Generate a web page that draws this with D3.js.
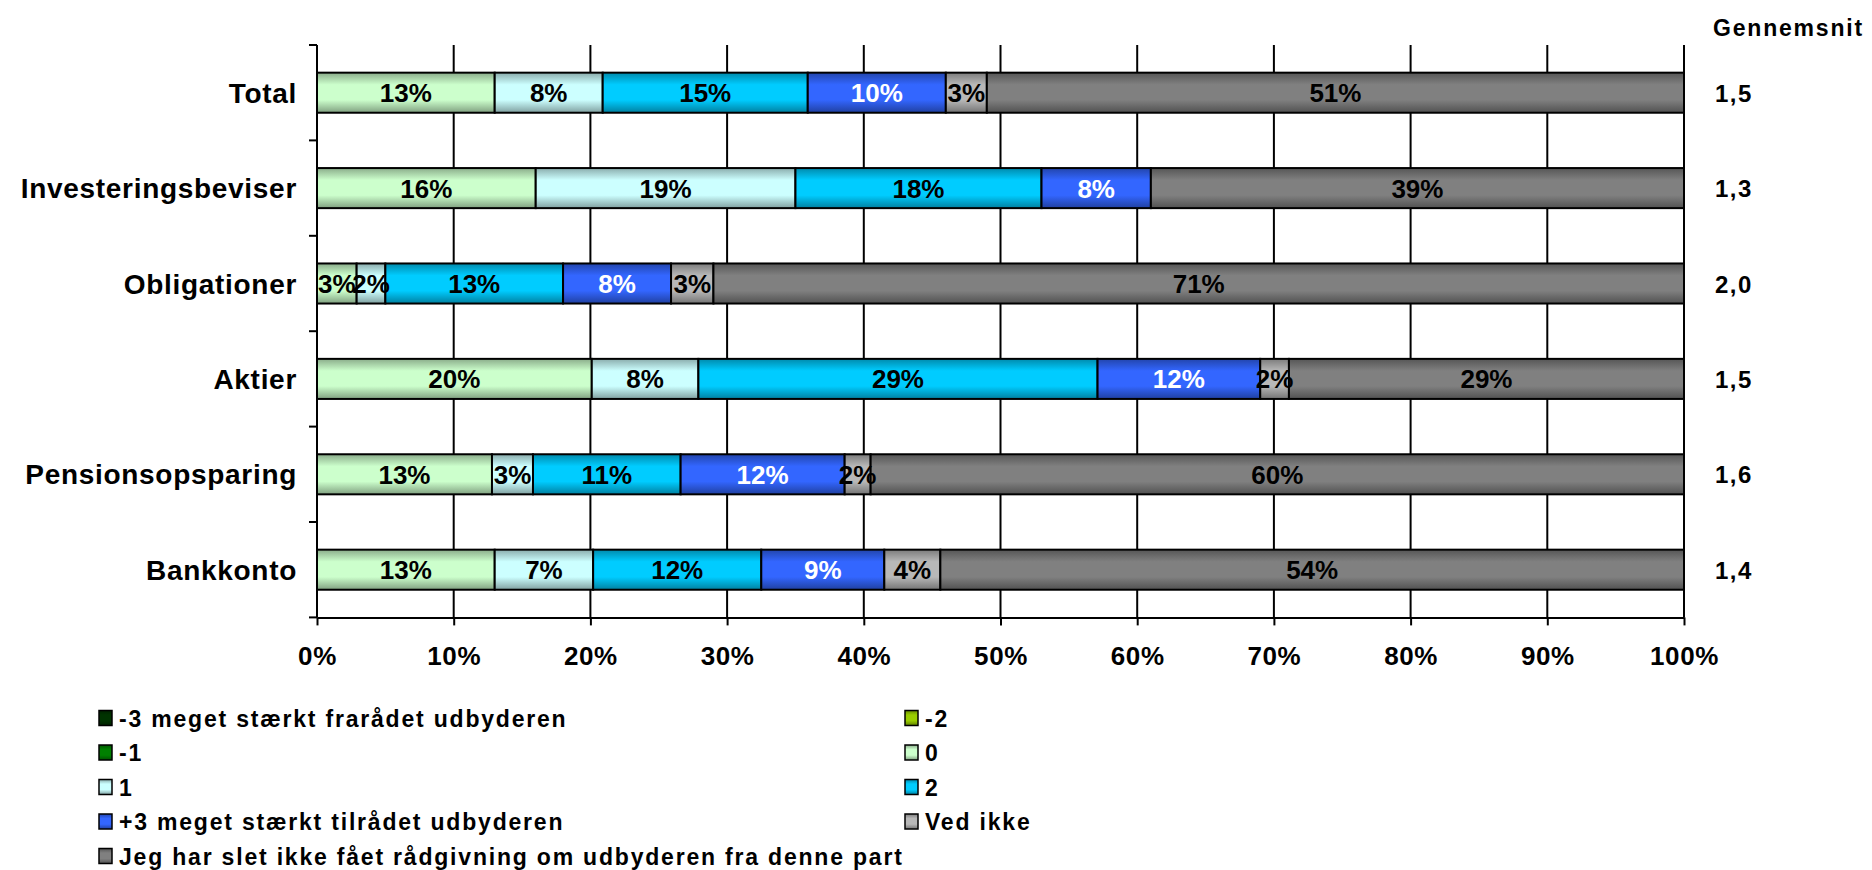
<!DOCTYPE html>
<html>
<head>
<meta charset="utf-8">
<script src="https://cdn.jsdelivr.net/npm/d3@7"></script>
<style>
  html, body { margin: 0; padding: 0; background: #fff; }
  svg { display: block; }
  text { font-family: "Liberation Sans", Arial, Helvetica, sans-serif; font-weight: bold; fill: #000; }
</style>
</head>
<body>
<script>
// ---------- DATA ----------
const categories = ["Total", "Investeringsbeviser", "Obligationer", "Aktier", "Pensionsopsparing", "Bankkonto"];
const seriesNames = [
  "-3 meget stærkt frarådet udbyderen", "-2", "-1", "0", "1", "2",
  "+3 meget stærkt tilrådet udbyderen", "Ved ikke",
  "Jeg har slet ikke fået rådgivning om udbyderen fra denne part"
];
// values in %, per category, in series order
const sMinus3 = [0, 0, 0, 0, 0, 0];
const sMinus2 = [0, 0, 0, 0, 0, 0];
const sMinus1 = [0, 0, 0, 0, 0, 0];
const sZero   = [13.0, 16.0, 2.9, 20.1, 12.8, 13.0];
const sOne    = [7.9, 19.0, 2.1, 7.8, 3.0, 7.2];
const sTwo    = [15.0, 18.0, 13.0, 29.2, 10.8, 12.3];
const sPlus3  = [10.1, 8.0, 7.9, 11.9, 12.0, 9.0];
const sVedIkke = [3.0, 0, 3.1, 2.1, 1.9, 4.1];
const sIngen  = [51.0, 39.0, 71.0, 28.9, 59.5, 54.4];
const averages = ["1,5", "1,3", "2,0", "1,5", "1,6", "1,4"];
const averageTitle = "Gennemsnit";
const xTicks = [0, 10, 20, 30, 40, 50, 60, 70, 80, 90, 100];

// ---------- STYLE ----------
const seriesColors = ["#003300", "#99CC00", "#008000", "#CCFFCC", "#CCFFFF", "#00CCFF", "#3366FF", "#B8B8B8", "#808080"];
const labelColors  = ["#fff", "#000", "#fff", "#000", "#000", "#000", "#fff", "#000", "#000"];

const W = 1872, H = 870;
const svg = d3.select("body").append("svg").attr("width", W).attr("height", H);

const seriesValues = [sMinus3, sMinus2, sMinus1, sZero, sOne, sTwo, sPlus3, sVedIkke, sIngen];
const table = categories.map((c, i) => {
  const o = { cat: c };
  seriesNames.forEach((s, j) => o[s] = seriesValues[j][i]);
  return o;
});
const stack = d3.stack().keys(seriesNames)(table);

const x = d3.scaleLinear().domain([0, 100]).range([317, 1684]);
const y = d3.scaleBand().domain(categories).range([45, 617.4]).paddingInner(0.58).paddingOuter(0.29);

// gradients
const defs = svg.append("defs");
seriesColors.forEach((c, i) => {
  const g = defs.append("linearGradient").attr("id", "grad" + i)
    .attr("x1", 0).attr("y1", 0).attr("x2", 0).attr("y2", 1);
  const dark = d3.color(c).darker(1.1);
  const dark2 = d3.color(c).darker(1.3);
  g.append("stop").attr("offset", "0%").attr("stop-color", dark);
  g.append("stop").attr("offset", "30%").attr("stop-color", c);
  g.append("stop").attr("offset", "68%").attr("stop-color", c);
  g.append("stop").attr("offset", "100%").attr("stop-color", dark2);
});

// gridlines
svg.append("g").selectAll("line").data(xTicks.filter(t => t > 0)).join("line")
  .attr("x1", d => x(d)).attr("x2", d => x(d))
  .attr("y1", 45).attr("y2", 617.4)
  .attr("stroke", "#000").attr("stroke-width", 2);

// x axis
const xAxis = svg.append("g").attr("transform", "translate(0,617.4)")
  .call(d3.axisBottom(x).tickValues(xTicks).tickSize(8).tickSizeOuter(0).tickFormat(d => d + "%"));
xAxis.select(".domain").attr("stroke", "#000").attr("stroke-width", 2);
xAxis.selectAll(".tick line").attr("stroke", "#000").attr("stroke-width", 2);
xAxis.selectAll(".tick text")
  .attr("y", 0).attr("dy", 0)
  .attr("transform", "translate(0,48)")
  .style("font-size", "26px").style("letter-spacing", "0.6px")
  .style("font-family", "'Liberation Sans', Arial, sans-serif").style("font-weight", "bold")
  .attr("fill", "#000");

// y axis (line + ticks at band boundaries)
const boundaries = d3.range(categories.length + 1).map(i => 45 + i * (617.4 - 45) / categories.length);
svg.append("line").attr("x1", x(0)).attr("x2", x(0)).attr("y1", 45).attr("y2", 617.4)
  .attr("stroke", "#000").attr("stroke-width", 2);
svg.append("g").selectAll("line").data(boundaries).join("line")
  .attr("x1", x(0) - 8).attr("x2", x(0)).attr("y1", d => d).attr("y2", d => d)
  .attr("stroke", "#000").attr("stroke-width", 2);

// bars
const layers = svg.append("g").selectAll("g").data(stack).join("g")
  .attr("fill", (d, i) => `url(#grad${i})`);
layers.selectAll("rect").data(d => d.filter(s => s[1] - s[0] > 0)).join("rect")
  .attr("x", d => x(d[0])).attr("width", d => x(d[1]) - x(d[0]))
  .attr("y", d => y(d.data.cat)).attr("height", y.bandwidth())
  .attr("stroke", "#000").attr("stroke-width", 2);

// bar labels
stack.forEach((layer, i) => {
  svg.append("g").selectAll("text").data(layer.filter(s => s[1] - s[0] > 0)).join("text")
    .attr("x", d => (x(d[0]) + x(d[1])) / 2)
    .attr("y", d => y(d.data.cat) + y.bandwidth() / 2 + 9.5)
    .attr("text-anchor", "middle")
    .style("font-size", "26px")
    .attr("fill", labelColors[i])
    .style("fill", labelColors[i])
    .text(d => Math.round(d[1] - d[0]) + "%");
});

// category labels
svg.append("g").selectAll("text").data(categories).join("text")
  .attr("x", 297).attr("y", d => y(d) + y.bandwidth() / 2 + 10)
  .attr("text-anchor", "end")
  .style("font-size", "28px").style("letter-spacing", "0.7px")
  .text(d => d);

// averages
svg.append("text").attr("x", 1713).attr("y", 36)
  .style("font-size", "23px").style("letter-spacing", "1.8px").text(averageTitle);
svg.append("g").selectAll("text").data(categories).join("text")
  .attr("x", 1715).attr("y", (d) => y(d) + y.bandwidth() / 2 + 9)
  .style("font-size", "24px").style("letter-spacing", "1.5px")
  .text((d, i) => averages[i]);

// legend
const legend = svg.append("g");
seriesNames.forEach((s, i) => {
  const col = i % 2, row = Math.floor(i / 2);
  const lx = col === 0 ? 99 : 905;
  const ly = 718 + row * 34.5;
  legend.append("rect").attr("x", lx).attr("y", ly - 7.5).attr("width", 13).attr("height", 15)
    .attr("fill", `url(#grad${i})`).attr("stroke", "#000").attr("stroke-width", 1.5);
  legend.append("text").attr("x", lx + 20).attr("y", ly + 8.5)
    .style("font-size", "23px").style("letter-spacing", "1.8px").text(s);
});
</script>
</body>
</html>
